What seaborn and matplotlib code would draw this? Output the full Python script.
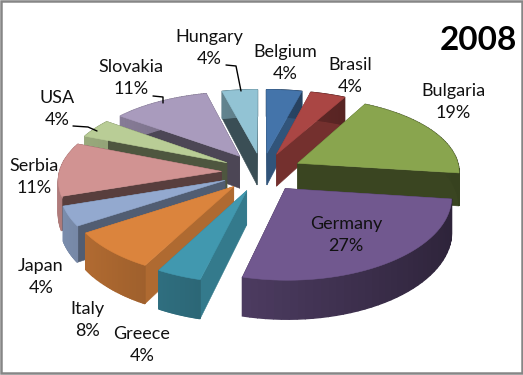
import numpy as np
import matplotlib
matplotlib.use("Agg")
import matplotlib.pyplot as plt
from matplotlib.patches import Polygon, Rectangle
import seaborn as sns

# data
countries = ["Belgium", "Brasil", "Bulgaria", "Germany", "Greece", "Italy",
             "Japan", "Serbia", "USA", "Slovakia", "Hungary"]
shares = [4, 4, 19, 27, 4, 8, 4, 11, 4, 11, 4]
year = "2008"

top_colors = ["#4474AA", "#AA4644", "#89A54E", "#71588F", "#4198AF", "#DB843D",
              "#93A9CF", "#D19392", "#B9CD96", "#A99BBD", "#92C3D4"]
side_shades = [0.72, 0.68, 0.42, 0.45, 0.8, 0.8, 0.55, 0.42, 0.42, 0.45, 0.4]

# label centres in pixels
label_pos = [(285, 63), (350, 76), (453, 102), (346, 235), (142, 345), (87, 320),
             (41, 277), (34, 177), (57, 109), (131, 78), (209, 48)]
leaders = {
    "Hungary": [(226, 65), (236, 66), (241, 91)],
    "Slovakia": [(153, 96), (163, 97), (163, 103)],
    "USA": [(73, 126), (88, 127), (97, 131)],
}

sns.set_theme(style="white")
plt.rcParams["font.family"] = ["Lato", "DejaVu Sans"]
palette = sns.color_palette(top_colors)

CX, CY = 262, 172
RX, RY = 162, 78
EXPLODE = 0.25
PIE_R = 1.0


def project(u, v, down=False):
    # fake perspective, things at the front get bigger
    x = CX + RX * u * (1 + 0.1 * v)
    y = CY + RY * v * (1 + 0.124 * v)
    if down:
        y = y + 33 + 5 * v
    return x, y


def shade(col, f):
    return tuple(c * f for c in col)


def add_poly(ax, pts, col, lw=0.4):
    ax.add_patch(Polygon(pts, closed=True, facecolor=col, edgecolor=col, linewidth=lw))


fig, ax = plt.subplots(figsize=(5.23, 3.75), dpi=100)
fig.subplots_adjust(0, 0, 1, 1)
ax.set_xlim(0, 523)
ax.set_ylim(375, 0)
ax.axis("off")

ends = np.cumsum(shares) / np.sum(shares) * 2 * np.pi
starts = ends - np.array(shares) / np.sum(shares) * 2 * np.pi
mids = (starts + ends) / 2

# back slices first
for i in np.argsort(-np.cos(mids)):
    col = palette[i]
    theta = np.linspace(starts[i], ends[i], 40)
    ou = EXPLODE * np.sin(mids[i])
    ov = -EXPLODE * np.cos(mids[i])
    us = ou + PIE_R * np.sin(theta)
    vs = ov - PIE_R * np.cos(theta)

    top = [project(ou, ov)] + [project(a, b) for a, b in zip(us, vs)]
    # radial walls
    for k in (0, -1):
        wall = [project(ou, ov), project(us[k], vs[k]),
                project(us[k], vs[k], True), project(ou, ov, True)]
        add_poly(ax, wall, shade(col, side_shades[i]))
    # outer wall with a simple gradient
    for k in range(len(theta) - 1):
        f = 0.62 - 0.22 * np.sin((theta[k] + theta[k + 1]) / 2)
        quad = [project(us[k], vs[k]), project(us[k + 1], vs[k + 1]),
                project(us[k + 1], vs[k + 1], True), project(us[k], vs[k], True)]
        add_poly(ax, quad, shade(col, f), lw=1.0)
    add_poly(ax, top, col)

for name, share, (x, y) in zip(countries, shares, label_pos):
    ax.text(x, y, f"{name}\n{share}%", ha="center", va="center", fontsize=13,
            color="#111111", linespacing=1.4)

for pts in leaders.values():
    ax.plot([p[0] for p in pts], [p[1] for p in pts], color="black", lw=1)

ax.text(478, 40, year, ha="center", va="center", fontsize=24, fontweight="bold", color="black")
ax.add_patch(Rectangle((1, 1), 520.5, 372, fill=False, edgecolor="#868686", linewidth=1.8))

fig.savefig("out.png", dpi=100)
